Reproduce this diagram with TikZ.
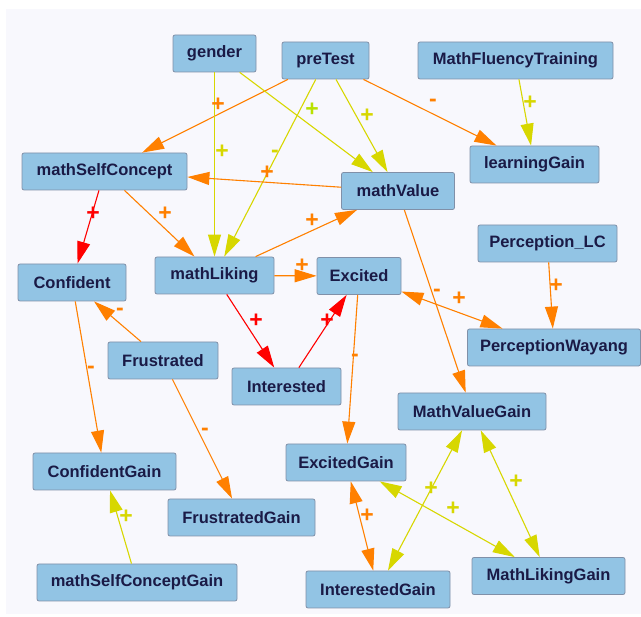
\documentclass[tikz,border=0pt]{standalone}
\usepackage{fontspec}
\setmainfont{Liberation Sans}
\usetikzlibrary{arrows.meta}

\definecolor{bgLav}{RGB}{248,248,253}
\definecolor{boxFill}{RGB}{146,196,228}
\definecolor{boxLine}{RGB}{128,144,168}
\definecolor{boxText}{RGB}{26,26,70}
\definecolor{edgeOrange}{RGB}{255,128,0}
\definecolor{edgeYellow}{RGB}{215,215,0}
\definecolor{edgeRed}{RGB}{255,0,0}
\definecolor{signLime}{RGB}{185,225,0}

\tikzset{
  factor/.style={draw=boxLine, fill=boxFill, rounded corners=2pt, line width=0.8pt,
    minimum height=37pt, inner sep=0pt, text=boxText,
    font=\fontsize{16.5}{18}\selectfont\bfseries},
  rel/.style={-{Triangle[length=22pt,width=13pt]}, line width=1.1pt},
  birel/.style={{Triangle[length=22pt,width=13pt]}-{Triangle[length=22pt,width=13pt]}, line width=1.1pt},
  sign/.style={inner sep=0pt, font=\fontsize{23}{24}\selectfont\bfseries}
}

\begin{document}
\begin{tikzpicture}[x=1pt,y=-1pt]
  \useasboundingbox (0,0) rectangle (641,617);
  \fill[bgLav] (6,9) rectangle (641,614);

  % Factors
  \node[factor, minimum width=83pt]  (gender)      at (214.5,53.5) {gender};
  \node[factor, minimum width=87pt]  (preTest)     at (325.5,60.5) {preTest};
  \node[factor, minimum width=195pt] (fluency)     at (515.5,60.5) {MathFluencyTraining};
  \node[factor, minimum width=165pt] (selfConcept) at (104.5,171.5) {mathSelfConcept};
  \node[factor, minimum width=113pt] (mathValue)   at (398,191) {mathValue};
  \node[factor, minimum width=129pt] (learnGain)   at (534.5,164.5) {learningGain};
  \node[factor, minimum width=108pt] (confident)   at (72,282.5) {Confident};
  \node[factor, minimum width=119pt] (mathLiking)  at (214.5,275.5) {mathLiking};
  \node[factor, minimum width=84pt]  (excited)     at (359,276) {Excited};
  \node[factor, minimum width=139pt] (percLC)      at (547.5,243.5) {Perception\_LC};
  \node[factor, minimum width=173pt] (percWayang)  at (554,347.5) {PerceptionWayang};
  \node[factor, minimum width=110pt] (frustrated)  at (163,360.5) {Frustrated};
  \node[factor, minimum width=109pt] (interested)  at (286.5,386.5) {Interested};
  \node[factor, minimum width=148pt] (valueGain)   at (472,411.5) {MathValueGain};
  \node[factor, minimum width=143pt] (confGain)    at (104.5,471.5) {ConfidentGain};
  \node[factor, minimum width=120pt] (excGain)     at (346,462.5) {ExcitedGain};
  \node[factor, minimum width=147pt] (frustGain)   at (241.5,517.5) {FrustratedGain};
  \node[factor, minimum width=200pt] (selfGain)    at (137,582.5) {mathSelfConceptGain};
  \node[factor, minimum width=144pt] (intGain)     at (378,589.5) {InterestedGain};
  \node[factor, minimum width=153pt] (likingGain)  at (548.5,576) {MathLikingGain};

  % Edges
  \draw[rel, edgeOrange] (preTest) -- (selfConcept);
  \draw[rel, edgeYellow] (gender) -- (mathLiking);
  \draw[rel, edgeYellow] (gender) -- (mathValue);
  \draw[rel, edgeYellow] (preTest) -- (mathLiking);
  \draw[rel, edgeYellow] (preTest) -- (mathValue);
  \draw[rel, edgeOrange] (preTest) -- (learnGain);
  \draw[rel, edgeYellow] (fluency) -- (learnGain);
  \draw[rel, edgeOrange] (mathValue) -- (selfConcept);
  \draw[rel, edgeOrange] (mathLiking) -- (mathValue);
  \draw[rel, edgeRed] (selfConcept) -- (confident);
  \draw[rel, edgeOrange] (selfConcept) -- (mathLiking);
  \draw[rel, edgeOrange] (mathLiking) -- (excited);
  \draw[rel, edgeRed] (mathLiking) -- (interested);
  \draw[rel, edgeRed] (interested) -- (excited);
  \draw[rel, edgeOrange] (excited) -- (excGain);
  \draw[rel, edgeOrange] (mathValue) -- (valueGain);
  \draw[birel, edgeOrange] (excited) -- (percWayang);
  \draw[rel, edgeOrange] (percLC) -- (percWayang);
  \draw[rel, edgeOrange] (confident) -- (confGain);
  \draw[rel, edgeOrange] (frustrated) -- (confident);
  \draw[rel, edgeOrange] (frustrated) -- (frustGain);
  \draw[rel, edgeYellow] (selfGain) -- (confGain);
  \draw[birel, edgeOrange] (excGain) -- (intGain);
  \draw[birel, edgeYellow] (valueGain) -- (intGain);
  \draw[birel, edgeYellow] (valueGain) -- (likingGain);
  \draw[birel, edgeYellow] (likingGain) -- (excGain);

  % Signs
  \node[sign, edgeOrange] (s1)  at (218,105) {+};
  \node[sign, edgeYellow] (s2)  at (222,152) {+};
  \node[sign, signLime]   (s3)  at (312,110) {+};
  \node[sign, edgeYellow] (s4)  at (275,154) {-};
  \node[sign, edgeYellow] (s5)  at (367,116) {+};
  \node[sign, edgeOrange] (s6)  at (433,103) {-};
  \node[sign, edgeYellow] (s7)  at (530,103) {+};
  \node[sign, edgeOrange] (s8)  at (267,173) {+};
  \node[sign, edgeOrange] (s9)  at (312,221) {+};
  \node[sign, edgeRed]    (s10) at (93,214) {+};
  \node[sign, edgeOrange] (s11) at (165,214) {+};
  \node[sign, edgeOrange] (s12) at (302,266) {+};
  \node[sign, edgeRed]    (s13) at (256,321) {+};
  \node[sign, edgeRed]    (s14) at (327,321) {+};
  \node[sign, edgeOrange] (s15) at (355,358) {-};
  \node[sign, edgeOrange] (s16) at (437,293) {-};
  \node[sign, edgeOrange] (s17) at (459,299) {+};
  \node[sign, edgeOrange] (s18) at (556,286) {+};
  \node[sign, edgeOrange] (s19) at (91,370) {-};
  \node[sign, edgeOrange] (s20) at (120,312) {-};
  \node[sign, edgeOrange] (s21) at (205,432) {-};
  \node[sign, edgeYellow] (s22) at (126,517) {+};
  \node[sign, edgeOrange] (s23) at (367,516) {+};
  \node[sign, edgeYellow] (s24) at (431,489) {+};
  \node[sign, edgeYellow] (s25) at (516,482) {+};
  \node[sign, edgeYellow] (s26) at (453,509) {+};
\end{tikzpicture}
\end{document}
